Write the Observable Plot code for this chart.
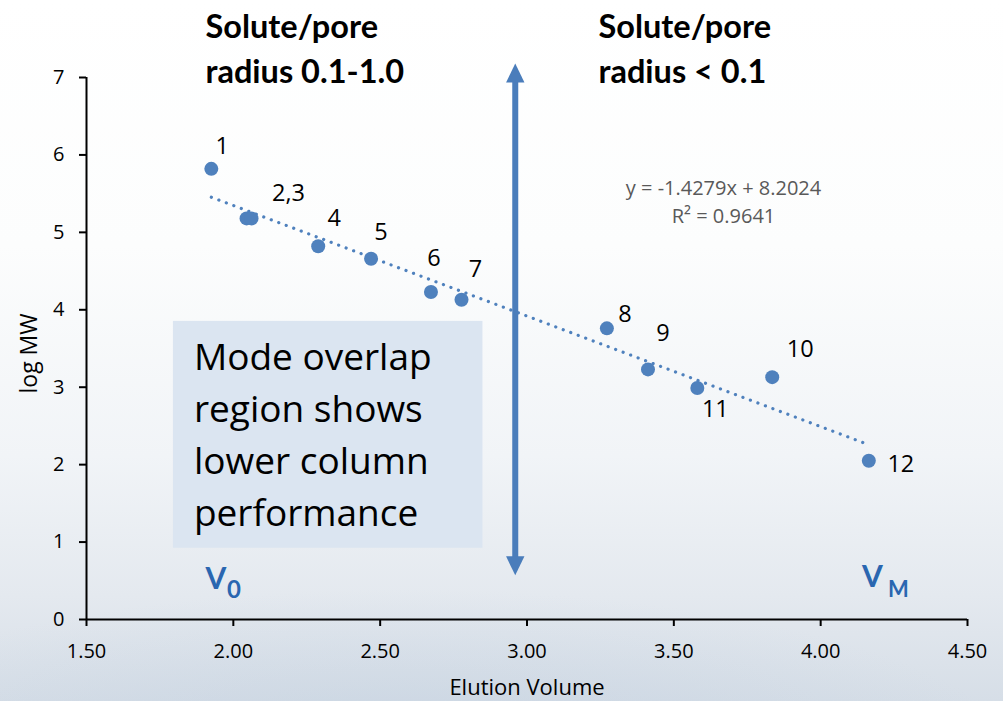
<!DOCTYPE html>
<html>
<head>
<meta charset="utf-8">
<script src="https://cdn.jsdelivr.net/npm/d3@7"></script>
<script src="https://cdn.jsdelivr.net/npm/@observablehq/plot@0.6"></script>
<style>
  html, body { margin: 0; padding: 0; width: 1003px; height: 701px; overflow: hidden; }
  body {
    background:
      radial-gradient(ellipse 900px 260px at 40% 110%, rgba(190,205,222,0.55), rgba(190,205,222,0) 70%),
      linear-gradient(to bottom, #ffffff 0%, #fcfdfd 35%, #f1f4f7 65%, #e4e9ef 85%, #d6dee7 100%);
  }
  #chart svg { display: block; }
</style>
</head>
<body>
<div id="chart"></div>
<script>
// ---- data ----
const sampleIds = ["1", "2", "3", "4", "5", "6", "7", "8", "9", "10", "11", "12"];
const elutionVolume = [1.925, 2.045, 2.062, 2.289, 2.469, 2.673, 2.777, 3.272, 3.412, 3.835, 3.580, 4.164];
const logMW = [5.82, 5.18, 5.18, 4.82, 4.66, 4.23, 4.13, 3.76, 3.23, 3.13, 2.99, 2.05];

const pointLabels = ["1", "2,3", "4", "5", "6", "7", "8", "9", "10", "11", "12"];
const pointLabelAnchor = ["1", "3", "4", "5", "6", "7", "8", "9", "10", "11", "12"];

const trendSlope = -1.4279;
const trendIntercept = 8.2024;
const equationText = ["y = -1.4279x + 8.2024", "R² = 0.9641"];

const xTicks = [1.5, 2.0, 2.5, 3.0, 3.5, 4.0, 4.5];
const yTicks = [0, 1, 2, 3, 4, 5, 6, 7];

const boundaryX = 2.96;              // separation between the two modes
const arrowTop = 7.18, arrowBottom = 0.57;  // vertical extent of the double arrow
const overlapBox = {x1: 1.796, x2: 2.850, y1: 0.92, y2: 3.85};

const titleLeft = "Solute/pore\nradius 0.1-1.0";
const titleRight = "Solute/pore\nradius < 0.1";
const boxText = "Mode overlap\nregion shows\nlower column\nperformance";
const xLabel = "Elution Volume";
const yLabel = "log MW";

// ---- build ----
const points = sampleIds.map((id, i) => ({id, x: elutionVolume[i], y: logMW[i]}));
const xMin = d3.min(elutionVolume), xMax = d3.max(elutionVolume);
const trend = [xMin, xMax].map(x => ({x, y: trendSlope * x + trendIntercept}));

const font = "'Open Sans', Lato, sans-serif";
const titleFont = "Lato, 'Open Sans', sans-serif";
const blue = "#4f81bd";
const arrowBlue = "#4a7dbb";
const vBlue = "#2a66b0";

// arrowhead symbols with the tip at the origin
const headUp = {draw(ctx) { ctx.moveTo(0, 0); ctx.lineTo(9.2, 19); ctx.lineTo(-9.2, 19); ctx.closePath(); }};
const headDown = {draw(ctx) { ctx.moveTo(0, 0); ctx.lineTo(9.2, -19); ctx.lineTo(-9.2, -19); ctx.closePath(); }};

// label nudges in pixels (style)
const nudge = {
  "1": [11, -22], "2,3": [37, -25], "4": [16, -28], "5": [10, -26], "6": [3, -34],
  "7": [14, -30], "8": [18, -14], "9": [15, -36], "10": [28, -28], "11": [18, 21], "12": [32, 4]
};

const labelMarks = pointLabels.map((lab, i) => {
  const p = points.find(d => d.id === pointLabelAnchor[i]);
  return Plot.text([p], {
    x: "x", y: "y", text: () => lab,
    dx: nudge[lab][0], dy: nudge[lab][1],
    fontSize: 23.5, fill: "#000", textAnchor: "middle", lineAnchor: "middle"
  });
});

const chart = Plot.plot({
  width: 1003,
  height: 701,
  marginLeft: 86,
  marginRight: 36,
  marginTop: 77,
  marginBottom: 82,
  style: {background: "transparent", fontFamily: font, color: "#000", overflow: "visible"},
  x: {domain: [1.5, 4.5]},
  y: {domain: [0, 7]},
  marks: [
    Plot.rect([overlapBox], {x1: "x1", x2: "x2", y1: "y1", y2: "y2", fill: "#dbe5f1"}),
    Plot.text([boxText], {
      x: overlapBox.x1, y: overlapBox.y1, dx: 20.5, dy: -22.7,
      textAnchor: "start", lineAnchor: "bottom", fontSize: 37, lineHeight: 51.7 / 37, fill: "#000"
    }),
    Plot.axisX({ticks: xTicks, tickFormat: d3.format(".2f"), tickSize: 7, tickPadding: 17, fontSize: 20, strokeWidth: 2, label: null}),
    Plot.axisY({ticks: yTicks, tickFormat: d3.format("d"), tickSize: 7, tickPadding: 15, fontSize: 20, strokeWidth: 2, label: null}),
    Plot.ruleY([0], {strokeWidth: 2, stroke: "#000"}),
    Plot.ruleX([1.5], {strokeWidth: 2, stroke: "#000"}),
    Plot.line(trend, {x: "x", y: "y", stroke: blue, strokeWidth: 3.2, strokeDasharray: "0.1 7.9", strokeLinecap: "round"}),
    Plot.dot(points, {x: "x", y: "y", r: 7, fill: blue}),
    ...labelMarks,
    Plot.text([equationText.join("\n")], {
      frameAnchor: "top-left", dx: 637, dy: 145.7, textAnchor: "middle", lineAnchor: "bottom",
      fontSize: 20, lineHeight: 28.4 / 20, fill: "#595959"
    }),
    Plot.ruleX([{x: boundaryX, top: arrowTop, bottom: arrowBottom}], {x: "x", y1: "top", y2: "bottom", stroke: arrowBlue, strokeWidth: 6, insetTop: 12, insetBottom: 12}),
    Plot.dot([{x: boundaryX, y: arrowTop}], {x: "x", y: "y", symbol: headUp, fill: arrowBlue, stroke: "none"}),
    Plot.dot([{x: boundaryX, y: arrowBottom}], {x: "x", y: "y", symbol: headDown, fill: arrowBlue, stroke: "none"}),
    Plot.text([titleLeft], {frameAnchor: "top-left", dx: 119, dy: 5, textAnchor: "start", lineAnchor: "bottom", fontFamily: titleFont, fontSize: 32.5, fontWeight: "bold", lineHeight: 45 / 32.5, fill: "#000"}),
    Plot.text([titleRight], {frameAnchor: "top-left", dx: 512, dy: 5, textAnchor: "start", lineAnchor: "bottom", fontFamily: titleFont, fontSize: 32.5, fontWeight: "bold", lineHeight: 45 / 32.5, fill: "#000"}),
    // V0 and VM markers
    Plot.text(["V"], {frameAnchor: "bottom-left", dx: 119, dy: -31, textAnchor: "start", lineAnchor: "bottom", fontFamily: titleFont, fontSize: 30, fontWeight: "bold", fill: vBlue}),
    Plot.text(["0"], {frameAnchor: "bottom-left", dx: 140.5, dy: -22, textAnchor: "start", lineAnchor: "bottom", fontFamily: titleFont, fontSize: 24, fontWeight: "bold", fill: vBlue}),
    Plot.text(["V"], {frameAnchor: "bottom-left", dx: 775.5, dy: -32.5, textAnchor: "start", lineAnchor: "bottom", fontFamily: titleFont, fontSize: 30, fontWeight: "bold", fill: vBlue}),
    Plot.text(["M"], {frameAnchor: "bottom-left", dx: 801.5, dy: -22.5, textAnchor: "start", lineAnchor: "bottom", fontFamily: titleFont, fontSize: 22, fontWeight: "bold", fill: vBlue}),
    // axis titles
    Plot.text([xLabel], {frameAnchor: "bottom", dy: 75, lineAnchor: "bottom", fontSize: 22, fill: "#000"}),
    Plot.text([yLabel], {frameAnchor: "left", dx: -50, dy: 5, rotate: -90, textAnchor: "middle", lineAnchor: "bottom", fontSize: 23, fill: "#000"})
  ]
});

document.getElementById("chart").appendChild(chart);
</script>
</body>
</html>
